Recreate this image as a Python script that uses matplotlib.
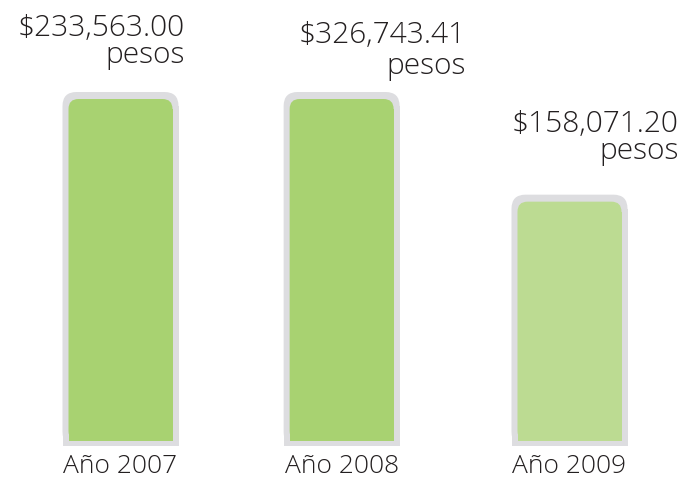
import matplotlib.pyplot as plt
from matplotlib.patches import FancyBboxPatch, Rectangle

# datos
years = ['Año 2007', 'Año 2008', 'Año 2009']
amounts = ['$233,563.00', '$326,743.41', '$158,071.20']
# altura de cada barra (no es proporcional al monto)
heights = [100, 100, 71]
fills = ['#a8d271', '#a8d271', '#bcdb92']
border = '#dddde0'
txt = '#231f20'

plt.rcParams['font.family'] = ['Open Sans', 'DejaVu Sans']

fig = plt.figure(figsize=(6.87, 4.84), dpi=100)
ax = fig.add_axes([0, 0, 1, 1])
# escala: px por unidad en x e y
pxx = 224.5
pxy = 3.54
ax.set_xlim(-120.5 / pxx, (687 - 120.5) / pxx)
ax.set_ylim(-38 / pxy, (484 - 38) / pxy)
ax.axis('off')


def rbar(x0, y0, w, h, r_px, color):
    # barra con esquinas superiores redondeadas
    rx = r_px / pxx
    ry = r_px / pxy
    ax.add_patch(FancyBboxPatch((x0, y0), w, h, boxstyle=f"round,pad=0,rounding_size={rx}",
                                mutation_aspect=ry / rx, fc=color, ec='none'))
    ax.add_patch(Rectangle((x0, y0), w, h - ry, fc=color, ec='none'))


hw_out = 58 / pxx
hw_in = 52 / pxx
dx = [64, 124, 109]
dy = [29, 18, 36]  # linea base de "pesos" sobre la barra
lsp = [0.88, 1.05, 0.88]
cx = [0, 0.985, 2]

for i, (yr, am, h, fc) in enumerate(zip(years, amounts, heights, fills)):
    rbar(cx[i] - hw_out, 0, 2 * hw_out, h, 14, border)
    rbar(cx[i] - hw_in, 5 / pxy, 2 * hw_in, h - 12 / pxy, 10, fc)
    ax.annotate(yr, (cx[i], 0), xytext=(0, -27), textcoords='offset pixels',
                ha='center', va='baseline', fontsize=19, color=txt, fontweight='light')
    ax.annotate(am + '\npesos', (cx[i], h), xytext=(dx[i], dy[i]), textcoords='offset pixels',
                ha='right', va='baseline', multialignment='right', linespacing=lsp[i],
                fontsize=21.5, color=txt, fontweight='light')

fig.savefig('out.png', dpi=100)
